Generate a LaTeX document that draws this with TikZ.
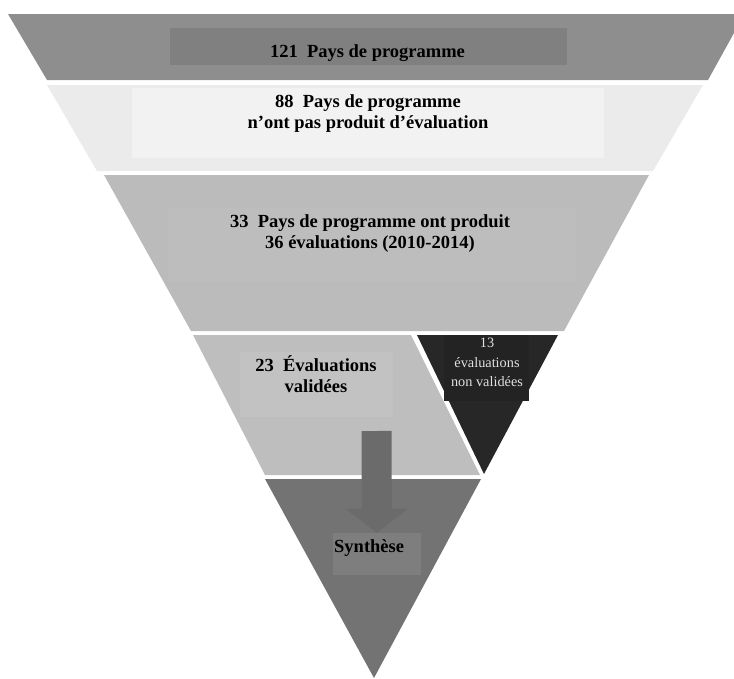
\documentclass[tikz,border=0pt]{standalone}
\usepackage{fontspec}
\setmainfont{Liberation Serif}
\usetikzlibrary{arrows.meta, positioning}
\definecolor{bandone}{HTML}{8E8E8E}
\definecolor{boxone}{HTML}{808080}
\definecolor{bandtwo}{HTML}{EBEBEB}
\definecolor{boxtwo}{HTML}{F2F2F2}
\definecolor{bandthree}{HTML}{BBBBBB}
\definecolor{boxthree}{HTML}{BDBDBD}
\definecolor{bandfour}{HTML}{BEBEBE}
\definecolor{boxfour}{HTML}{C2C2C2}
\definecolor{rejected}{HTML}{272727}
\definecolor{bandfive}{HTML}{737373}
\definecolor{boxfive}{HTML}{7E7E7E}
\definecolor{flow}{HTML}{6B6B6B}

\begin{document}
\begin{tikzpicture}[x=1pt, y=-1pt]
    \tikzstyle{panel} = [rectangle, draw=none, inner sep=0pt]
    \tikzstyle{bandtext} = [align=center, inner sep=0pt, font=\fontsize{18.5}{21}\selectfont\bfseries]
    \tikzstyle{smalltext} = [align=center, inner sep=0pt, text=white!88!black, font=\fontsize{14.3}{19.5}\selectfont]
    \tikzstyle{flowarrow} = [draw=flow, line width=30pt, -{Triangle[width=61pt, length=24pt]}]

    \useasboundingbox (0,0) rectangle (734,678);

    % funnel bands
    \fill[bandone] (8,14) -- (734,14) -- (734,33) -- (708,80) -- (47,80) -- cycle;
    \fill[bandtwo] (47,85) -- (703,85) -- (653,171) -- (97,171) -- cycle;
    \fill[bandthree] (104,175) -- (649,175) -- (564,331) -- (191,331) -- cycle;
    \fill[bandfour] (193,335) -- (411,335) -- (480,475) -- (265,475) -- cycle;
    \fill[rejected] (417,335) -- (558,335) -- (484,474) -- cycle;
    \fill[bandfive] (265,479) -- (481,479) -- (374,678) -- cycle;

    % text panels
    \node (box121) [panel, fill=boxone, minimum width=397pt, minimum height=37pt] at (368.5,46.5) {};
    \node (box88) [panel, fill=boxtwo, minimum width=472pt, minimum height=70pt] at (368,123) {};
    \node (box33) [panel, fill=boxthree, minimum width=408pt, minimum height=74pt] at (372,245) {};
    \node (box23) [panel, fill=boxfour, minimum width=153pt, minimum height=65pt] at (316.5,384.5) {};
    \node (box13) [panel, fill=rejected!90!black, minimum width=85pt, minimum height=66pt] at (486.5,368) {};
    \node (synth) [panel, fill=boxfive, minimum width=88pt, minimum height=42pt] at (377,554) {};

    \node (pays121) [bandtext, anchor=base] at (367.5,57) {121\ \ Pays de programme};
    \node (pays88) [bandtext, anchor=north] at (368,94) {88\ \ Pays de programme\\n’ont pas produit d’évaluation};
    \node (pays33) [bandtext, anchor=north] at (370,214) {33\ \ Pays de programme ont produit\\36 évaluations (2010-2014)};
    \node (eval23) [bandtext, anchor=north] at (316,355) {23\ \ Évaluations\\validées};
    \node (eval13) [smalltext, anchor=north] at (487,338) {13\\évaluations\\non validées};
    \node (synthtext) [bandtext, anchor=base west] at (334,552) {Synthèse};

    \coordinate (flowstart) at (376.5,431);
    \draw [flowarrow] (flowstart) -- (synth.north);
\end{tikzpicture}
\end{document}
